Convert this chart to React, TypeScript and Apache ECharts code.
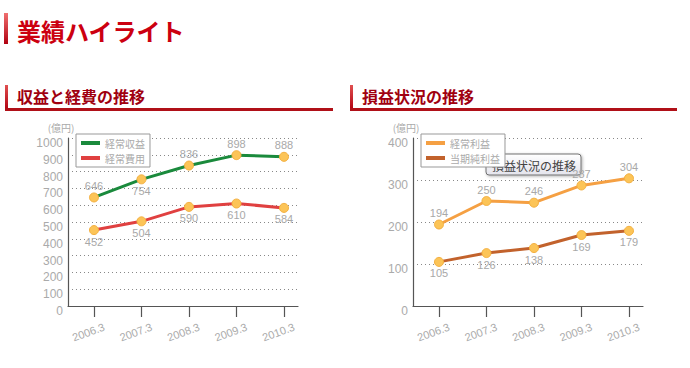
import React, { useEffect, useRef } from "react";
import * as echarts from "echarts";

const categories = ["2006.3", "2007.3", "2008.3", "2009.3", "2010.3"];
const revenue = [646, 754, 836, 898, 888];
const expenses = [452, 504, 590, 610, 584];
const ordinaryProfit = [194, 250, 246, 287, 304];
const netIncome = [105, 126, 138, 169, 179];
const leftSeriesNames = ["経常収益", "経常費用"];
const rightSeriesNames = ["経常利益", "当期純利益"];
const revenueLabelPos = ["top", "bottom", "top", "top", "top"];

const FONT = "'Noto Sans CJK JP', 'Noto Sans', sans-serif";
const NUMFONT = "'Liberation Sans', 'Noto Sans', sans-serif";
const tickIdx = [0, 1, 2, 3, 4];

function xAxis(gridIndex: number) {
  return {
    type: "value",
    gridIndex,
    min: -0.547,
    max: 4.295,
    axisLine: { show: true, onZero: false, lineStyle: { color: "#555", width: 1.2 } },
    axisTick: { show: true, customValues: tickIdx, length: 11, lineStyle: { color: "#555", width: 1.2 } },
    axisLabel: {
      customValues: tickIdx,
      formatter: (v: number) => categories[Math.round(v)] ?? "",
      rotate: 20,
      align: "center",
      verticalAlign: "middle",
      margin: 24,
      padding: [0, 12, 0, 0],
      color: "#aaa",
      fontSize: 11,
      fontFamily: NUMFONT,
    },
    splitLine: { show: false },
  };
}

function yAxis(gridIndex: number, max: number) {
  return {
    type: "value",
    gridIndex,
    min: 0,
    max,
    interval: 100,
    name: "(億円)",
    nameLocation: "end",
    nameGap: 6,
    nameTextStyle: { color: "#aaa", fontSize: 10, fontFamily: FONT, padding: [0, 14, 0, 0] },
    axisLine: { show: true, onZero: false, lineStyle: { color: "#555", width: 1.2 } },
    axisTick: { show: false },
    axisLabel: {
      formatter: (v: number) => String(v),
      color: "#aaa",
      fontSize: 12,
      fontFamily: NUMFONT,
      margin: 5,
      verticalAlign: "top",
      padding: [-1, 0, 0, 0],
    },
    splitLine: { show: true, lineStyle: { color: "#888", type: [1, 3], width: 1 } },
  };
}

function lineSeries(name: string, values: number[], color: string, idx: number, pos: (i: number) => string) {
  return {
    type: "line",
    name,
    xAxisIndex: idx,
    yAxisIndex: idx,
    data: values.map((v, i) => ({
      value: [i, v],
      label: { position: pos(i) },
    })),
    symbol: "circle",
    symbolSize: 9,
    lineStyle: { color, width: 3 },
    itemStyle: { color: "#fcc457", borderColor: "#f4b040", borderWidth: 1 },
    label: {
      show: true,
      formatter: (p: any) => String(p.value[1]),
      color: "#a8a8a8",
      fontSize: 11,
      fontFamily: NUMFONT,
      distance: 1,
    },
    z: 3,
  };
}

function heading(x: number, lineEnd: number, text: string) {
  return [
    {
      type: "rect",
      shape: { x, y: 85, width: 3, height: 25 },
      style: {
        fill: new echarts.graphic.LinearGradient(0, 0, 0, 1, [
          { offset: 0, color: "#e05050" },
          { offset: 1, color: "#b00010" },
        ]),
      },
    },
    {
      type: "rect",
      shape: { x, y: 108, width: lineEnd - x, height: 3 },
      style: { fill: "#b01018" },
    },
    {
      type: "text",
      x: x + 12,
      y: 96,
      style: {
        text,
        fill: "#a00010",
        font: `bold 16px ${FONT}`,
        verticalAlign: "middle",
      },
    },
  ];
}

export default function App() {
  const ref = useRef<HTMLDivElement>(null);
  useEffect(() => {
    if (!ref.current) return;
    const chart = echarts.init(ref.current, undefined, { renderer: "svg" });
    const legendCommon = {
      orient: "vertical",
      top: 134,
      icon: "rect",
      itemWidth: 19,
      itemHeight: 4,
      itemGap: 3,
      padding: [3, 5, 3, 5],
      borderColor: "#999",
      borderWidth: 1,
      backgroundColor: "#fff",
      textStyle: { color: "#aaa", fontSize: 10, fontFamily: FONT, lineHeight: 12 },
      z: 10,
    };
    const li = (name: string, color: string) => ({
      name,
      itemStyle: { color, borderWidth: 0 },
    });
    chart.setOption({
      animation: false,
      backgroundColor: "#fff",
      grid: [
        { left: 68, width: 230, top: 138, height: 168 },
        { left: 413, width: 230, top: 138, height: 168 },
      ],
      xAxis: [xAxis(0), xAxis(1)],
      yAxis: [yAxis(0, 1000), yAxis(1, 400)],
      legend: [
        {
          ...legendCommon,
          left: 76,
          data: [li(leftSeriesNames[0], "#1a8a3c"), li(leftSeriesNames[1], "#e04040")],
        },
        {
          ...legendCommon,
          left: 421,
          data: [li(rightSeriesNames[0], "#f5a043"), li(rightSeriesNames[1], "#c2622c")],
        },
      ],
      series: [
        lineSeries(leftSeriesNames[0], revenue, "#1a8a3c", 0, (i) => revenueLabelPos[i]),
        lineSeries(leftSeriesNames[1], expenses, "#e04040", 0, () => "bottom"),
        lineSeries(rightSeriesNames[0], ordinaryProfit, "#f5a043", 1, () => "top"),
        lineSeries(rightSeriesNames[1], netIncome, "#c2622c", 1, () => "bottom"),
      ],
      graphic: [
        {
          type: "rect",
          shape: { x: 4, y: 13, width: 4, height: 31 },
          style: {
            fill: new echarts.graphic.LinearGradient(0, 0, 0, 1, [
              { offset: 0, color: "#f07070" },
              { offset: 1, color: "#b00010" },
            ]),
          },
        },
        {
          type: "text",
          x: 17,
          y: 30,
          style: {
            text: "業績ハイライト",
            fill: "#cc0010",
            font: `bold 24px ${FONT}`,
            verticalAlign: "middle",
          },
        },
        ...heading(5, 333, "収益と経費の推移"),
        ...heading(350, 677, "損益状況の推移"),
        {
          type: "group",
          z: 100,
          children: [
            {
              type: "rect",
              shape: { x: 486, y: 154, width: 95, height: 21, r: 3 },
              style: {
                fill: new echarts.graphic.LinearGradient(0, 0, 0, 1, [
                  { offset: 0, color: "#ffffff" },
                  { offset: 1, color: "#e4e4ec" },
                ]),
                stroke: "#707070",
                lineWidth: 1,
                shadowBlur: 3,
                shadowOffsetX: 1,
                shadowOffsetY: 1,
                shadowColor: "rgba(0,0,0,0.3)",
              },
            },
            {
              type: "text",
              x: 492,
              y: 165,
              style: {
                text: "損益状況の推移",
                fill: "#444",
                font: `12px ${FONT}`,
                verticalAlign: "middle",
              },
            },
          ],
        },
      ],
    });
    return () => chart.dispose();
  }, []);
  return (
    <div
      ref={ref}
      style={{ position: "fixed", left: 0, top: 0, width: 690, height: 368 }}
    />
  );
}
